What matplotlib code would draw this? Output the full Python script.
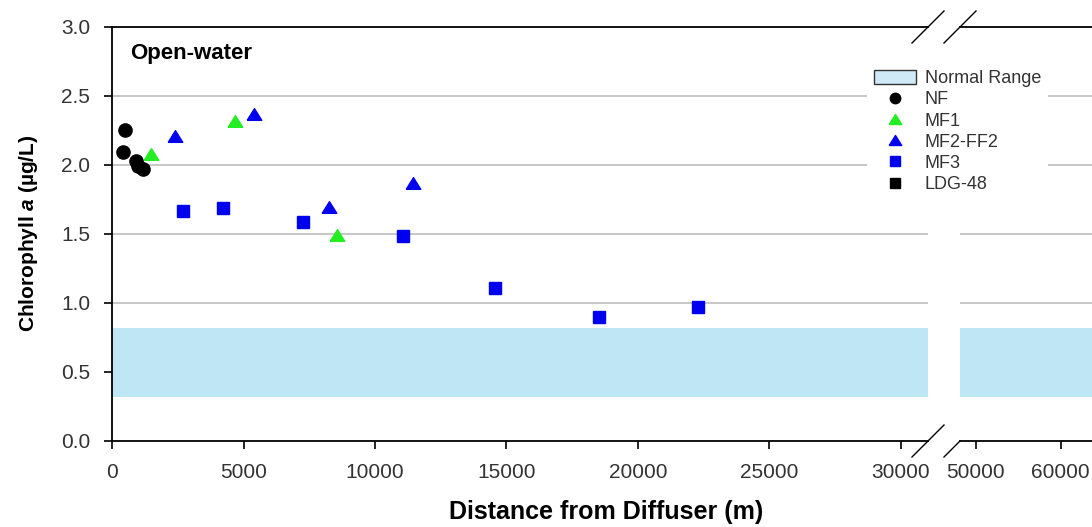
import numpy as np
import matplotlib.pyplot as plt
from matplotlib.lines import Line2D
from matplotlib.patches import Patch

plt.rcParams['font.family'] = ['Liberation Sans', 'DejaVu Sans']
plt.rcParams['mathtext.fontset'] = 'custom'
plt.rcParams['mathtext.it'] = 'Liberation Sans:italic:bold'
plt.rcParams['mathtext.rm'] = 'Liberation Sans:bold'

# Distance from diffuser (m) and chlorophyll a (ug/L) per station group
nf_x = [400, 480, 900, 980, 1170]
nf_y = [2.09, 2.25, 2.03, 1.99, 1.97]
mf1_x = [1480, 4670, 8550]
mf1_y = [2.08, 2.32, 1.49]
mf2_x = [2390, 5390, 8240, 11440]
mf2_y = [2.21, 2.37, 1.69, 1.87]
mf3_x = [2690, 4210, 7255, 11060, 14560, 18520, 22280]
mf3_y = [1.665, 1.685, 1.585, 1.48, 1.105, 0.895, 0.97]
ldg_x = []
ldg_y = []

normal_range = (0.32, 0.82)
y_ticks = [0.0, 0.5, 1.0, 1.5, 2.0, 2.5, 3.0]
left_ticks = [0, 5000, 10000, 15000, 20000, 25000, 30000]
right_ticks = [50000, 60000]

band_color = '#bfe6f4'
tick_color = '#333333'
green = '#22ee22'
blue = '#0000ee'

# squat triangle, wider than tall
tri = [(-1, -0.8), (1, -0.8), (0, 0.8), (-1, -0.8)]

fig = plt.figure(figsize=(10.92, 5.27), dpi=100)
ax1 = fig.add_axes([0.1028, 0.1638, 0.747, 0.7855])
ax2 = fig.add_axes([0.8791, 0.1638, 0.1209, 0.7855])

for ax in (ax1, ax2):
    ax.axhspan(normal_range[0], normal_range[1], color=band_color, lw=0, zorder=1)
    for y in y_ticks[1:-1]:
        ax.axhline(y, color='#b8b8b8', lw=1.1, zorder=0.5)
    ax.set_ylim(0, 3.0)
    ax.spines['right'].set_visible(False)
    for s in ('top', 'bottom', 'left'):
        ax.spines[s].set_linewidth(1.3)
    ax.tick_params(axis='both', labelsize=15, labelcolor=tick_color,
                   direction='out', length=6, width=1.2)
    ax.tick_params(axis='x', pad=10)
    ax.tick_params(axis='y', pad=10)

def draw_points(ax):
    ax.plot(nf_x, nf_y, 'o', color='black', ms=9.5, zorder=3)
    ax.plot(mf1_x, mf1_y, marker=tri, ls='none', color=green, ms=10.5, zorder=3)
    ax.plot(mf2_x, mf2_y, marker=tri, ls='none', color=blue, ms=10.5, zorder=3)
    ax.plot(mf3_x, mf3_y, 's', color=blue, ms=9, zorder=3)
    ax.plot(ldg_x, ldg_y, 's', color='black', ms=9, zorder=3)

draw_points(ax1)
draw_points(ax2)

ax1.set_xlim(0, 31040)
ax1.set_xticks(left_ticks)
ax1.set_yticks(y_ticks)
ax1.set_yticklabels([f'{v:.1f}' for v in y_ticks])

ax2.set_xlim(48150, 63680)
ax2.set_xticks(right_ticks)
ax2.spines['left'].set_visible(False)
ax2.tick_params(axis='y', left=False, labelleft=False)

ax1.set_ylabel(r'Chlorophyll $\mathit{a}$ (µg/L)', fontsize=15, fontweight='bold', labelpad=15)
fig.text(606 / 1092, 1 - 512 / 527, 'Distance from Diffuser (m)', fontsize=18,
         fontweight='bold', ha='center', va='center')
ax1.text(0.022, 0.935, 'Open-water', transform=ax1.transAxes, fontsize=16,
         fontweight='bold', va='center')

# break marks on the x axis
W, H = 1092, 527
for cx, cy in [(928, 27), (960, 27), (928, 441)]:
    fig.add_artist(Line2D([(cx - 16) / W, (cx + 16) / W],
                          [1 - (cy + 16) / H, 1 - (cy - 16) / H],
                          color='black', lw=1))
fig.add_artist(Line2D([944 / W, 960 / W], [1 - 457 / H, 1 - 441 / H], color='black', lw=1))

handles = [
    Patch(facecolor='#cfeaf6', edgecolor='#333333', lw=1),
    Line2D([], [], marker='o', ls='none', color='black', ms=7.5),
    Line2D([], [], marker=tri, ls='none', color=green, ms=9),
    Line2D([], [], marker=tri, ls='none', color=blue, ms=9),
    Line2D([], [], marker='s', ls='none', color=blue, ms=7.5),
    Line2D([], [], marker='s', ls='none', color='black', ms=7.5),
]
labels = ['Normal Range', 'NF', 'MF1', 'MF2-FF2', 'MF3', 'LDG-48']
leg = fig.legend(handles, labels, loc='upper left', bbox_to_anchor=(858 / W, 1 - 54 / H),
                 fontsize=13, frameon=True, framealpha=1, edgecolor='none',
                 facecolor='white', fancybox=False, handlelength=2.3, handleheight=0.75,
                 handletextpad=0.5, labelspacing=0.23, borderpad=0.4)
for t in leg.get_texts():
    t.set_color(tick_color)

fig.savefig('out.png', dpi=100)
